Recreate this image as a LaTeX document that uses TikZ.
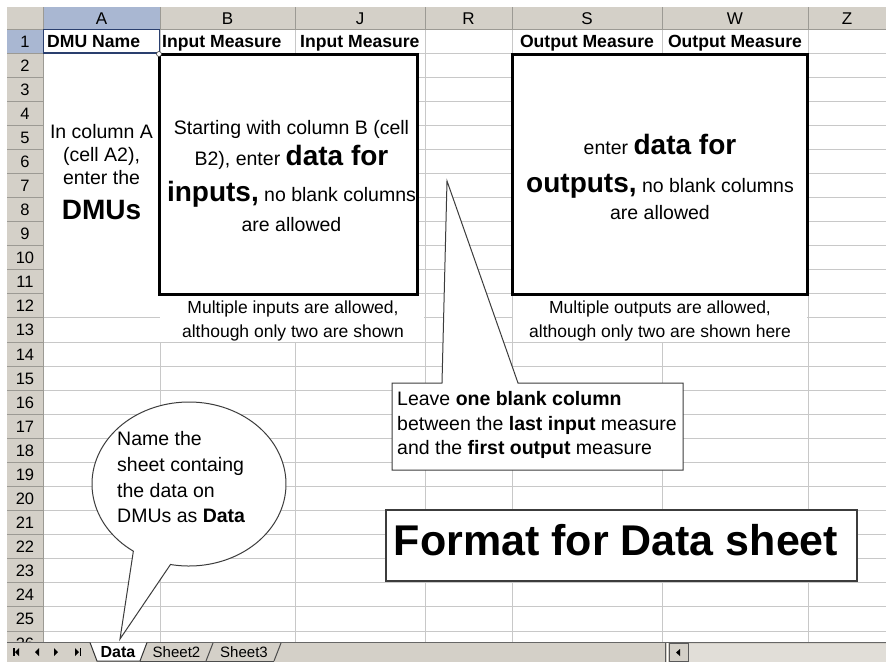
\documentclass[tikz,border=0pt]{standalone}
\usepackage{fontspec}
\setmainfont{Liberation Sans}
\definecolor{hdr}{HTML}{D4D0C8}
\definecolor{hdrsel}{HTML}{A9B7D2}
\definecolor{gridc}{HTML}{C8C8C8}
\definecolor{hdrline}{HTML}{9C9A94}
\definecolor{callline}{HTML}{3C3C3C}
\definecolor{selline}{HTML}{2A3F6E}
\newcommand\fsz[1]{\fontsize{#1}{#1}\selectfont}
\newcommand\bigb{\bfseries\fsz{28}}
\begin{document}
\begin{tikzpicture}[x=1pt,y=-1pt,
  txt/.style={inner sep=0pt, anchor=base, font=\fsz{19.5}},
  lefttxt/.style={inner sep=0pt, anchor=base west, font=\fsz{19.5}},
  colhd/.style={inner sep=0pt, anchor=base, font=\fsz{17}},
  rowhd/.style={inner sep=0pt, anchor=base, font=\fsz{16.5}},
  hdrtxt/.style={inner sep=0pt, anchor=base west, font=\bfseries\fsz{17.6}},
  hdrctr/.style={inner sep=0pt, anchor=base, font=\bfseries\fsz{17.6}},
  multxt/.style={inner sep=0pt, anchor=base, font=\fsz{17.5}},
  tabtxt/.style={inner sep=0pt, anchor=base, font=\fsz{15}},
  gridline/.style={draw=gridc, line width=1pt},
  hdrsep/.style={draw=hdrline, line width=1pt},
  thickbox/.style={draw=black, line width=3pt, fill=white},
  callout/.style={draw=callline, line width=1pt, fill=white, line join=miter},
]
\useasboundingbox (0,0) rectangle (886,662);
\fill[white] (0,0) rectangle (886,662);
% headers
\fill[hdr] (7,7) rectangle (886,29);
\fill[hdr] (7,29) rectangle (43,642);
\fill[hdrsel] (43,7) rectangle (160,29);
\fill[hdrsel] (7,29) rectangle (43,53);
% grid
\foreach \n in {1,...,26}{
  \pgfmathsetmacro\yy{29+\n*24.08}
  \draw[gridline] (43,\yy) -- (886,\yy);
  \draw[hdrsep] (7,\yy) -- (43,\yy);
}
\foreach \xx in {160,295,425,512,662,808}{
  \draw[gridline] (\xx,29) -- (\xx,642);
  \draw[hdrsep] (\xx,7) -- (\xx,29);
}
\draw[hdrsep] (7,29) -- (886,29);
\draw[hdrsep] (43,7) -- (43,642);
% column letters
\node[colhd] (cA) at (101.5,24) {A};
\node[colhd] (cB) at (227.5,24) {B};
\node[colhd] (cJ) at (360,24) {J};
\node[colhd] (cR) at (468.5,24) {R};
\node[colhd] (cS) at (587,24) {S};
\node[colhd] (cW) at (735,24) {W};
\node[colhd] (cZ) at (847,24) {Z};
% row numbers
\foreach \n in {1,...,26}{
  \pgfmathsetmacro\yc{47+(\n-1)*24.08}
  \node[rowhd] (r\n) at (25,\yc) {\n};
}
% white text-box areas
\fill[white] (44,54) rectangle (159,293.5);
\fill[white] (160,295) rectangle (424,341.5);
\fill[white] (513,295) rectangle (807,341.5);
% thick boxes
\draw[thickbox] (159,54) rectangle (417,294);
\draw[thickbox] (512,54) rectangle (807,294);
% active cell A1
\draw[selline, line width=1.2pt] (43.5,29.5) rectangle (159.5,53);
\draw[fill=white, draw=black!75, line width=0.6pt] (159,54) circle[radius=2.5pt];
% row 1 headers
\node[hdrtxt] (h1) at (47,47) {DMU Name};
\node[hdrtxt] (h2) at (162,47) {Input Measure};
\node[hdrtxt] (h3) at (300,47) {Input Measure};
\node[hdrctr] (h4) at (587,47) {Output Measure};
\node[hdrctr] (h5) at (735,47) {Output Measure};
% column A text
\node[txt] (a1) at (101.5,138) {In column A};
\node[txt] (a2) at (101.5,161) {(cell A2),};
\node[txt] (a3) at (101.5,184) {enter the};
\node[txt,font=\bfseries\fsz{28}] (a4) at (101.5,219) {DMUs};
% input box text
\node[txt] (i1) at (291.5,134) {Starting with column B (cell};
\node[txt] (i2) at (291.5,165) {B2), enter {\bigb data for}};
\node[txt] (i3) at (291.5,201) {{\bigb inputs,} no blank columns};
\node[txt] (i4) at (291.5,231) {are allowed};
% output box text
\node[txt] (o1) at (660,154) {enter {\bigb data for}};
\node[txt] (o2) at (660,192) {{\bigb outputs,} no blank columns};
\node[txt] (o3) at (660,219) {are allowed};
% multiple text
\node[multxt] (m1) at (293,313) {Multiple inputs are allowed,};
\node[multxt] (m2) at (293,337) {although only two are shown};
\node[multxt] (m3) at (660,313) {Multiple outputs are allowed,};
\node[multxt] (m4) at (660,337) {although only two are shown here};
% rectangular callout
\draw[callout] (442,383) -- (447,181) -- (518,383) -- (683,383) -- (683,470) -- (392,470) -- (392,383) -- cycle;
\node[lefttxt] (c1) at (397,405) {Leave \textbf{one blank column}};
\node[lefttxt] (c2) at (397,430) {between the \textbf{last input} measure};
\node[lefttxt] (c3) at (397,454) {and the \textbf{first output} measure};
% ellipse callout
\draw[callout] (120,639) -- (133.36,551.17) arc[start angle=235, end angle=-101, x radius=97pt, y radius=82pt] -- cycle;
\node[lefttxt] (e1) at (117,445) {Name the};
\node[lefttxt] (e2) at (117,471) {sheet containg};
\node[lefttxt] (e3) at (117,497) {the data on};
\node[lefttxt] (e4) at (117,522) {DMUs as \textbf{Data}};
% title box
\draw[draw=callline, line width=1.2pt, fill=white] (386,510) rectangle (857,581);
\node[inner sep=0pt, anchor=base, font=\bfseries\fsz{43}] (title) at (616,555) {Format for Data sheet};
% tab bar
\fill[hdr] (7,642) rectangle (886,662);
\draw[draw=gray!80!black, line width=1pt] (7,642.5) -- (886,642.5);
% nav buttons
\fill[black] (13,648) rectangle (14.5,656);
\fill[black] (19,648) -- (15,652) -- (19,656) -- cycle;
\fill[black] (39,648) -- (35,652) -- (39,656) -- cycle;
\fill[black] (54,648) -- (58,652) -- (54,656) -- cycle;
\fill[black] (75,648) -- (79,652) -- (75,656) -- cycle;
\fill[black] (79.5,648) rectangle (81,656);
% tabs
\draw[draw=gray!60!black, line width=1pt] (140,661) -- (274,661);
\draw[draw=gray!60!black, line width=1pt] (206,661) -- (213,643);
\draw[draw=gray!60!black, line width=1pt] (274,661) -- (281,643);
\draw[fill=white, draw=black!80, line width=1pt] (90,642.5) -- (97,661) -- (140,661) -- (147,642.5);
\node[tabtxt, font=\bfseries\fsz{16}] (tdata) at (118,657.5) {Data};
\node[tabtxt] (ts2) at (176.5,657.5) {Sheet2};
\node[tabtxt] (ts3) at (244,657.5) {Sheet3};
% scrollbar
\draw[draw=gray!70!black, line width=1pt] (665,643) -- (665,662);
\draw[draw=white, line width=1pt] (667,643) -- (667,662);
\draw[draw=gray!70!black, line width=1pt] (669,643) rectangle (688,661.5);
\fill[black] (680,649) -- (676,652.5) -- (680,656) -- cycle;
\fill[hdr!70!white] (689,644) rectangle (886,662);
\end{tikzpicture}
\end{document}
